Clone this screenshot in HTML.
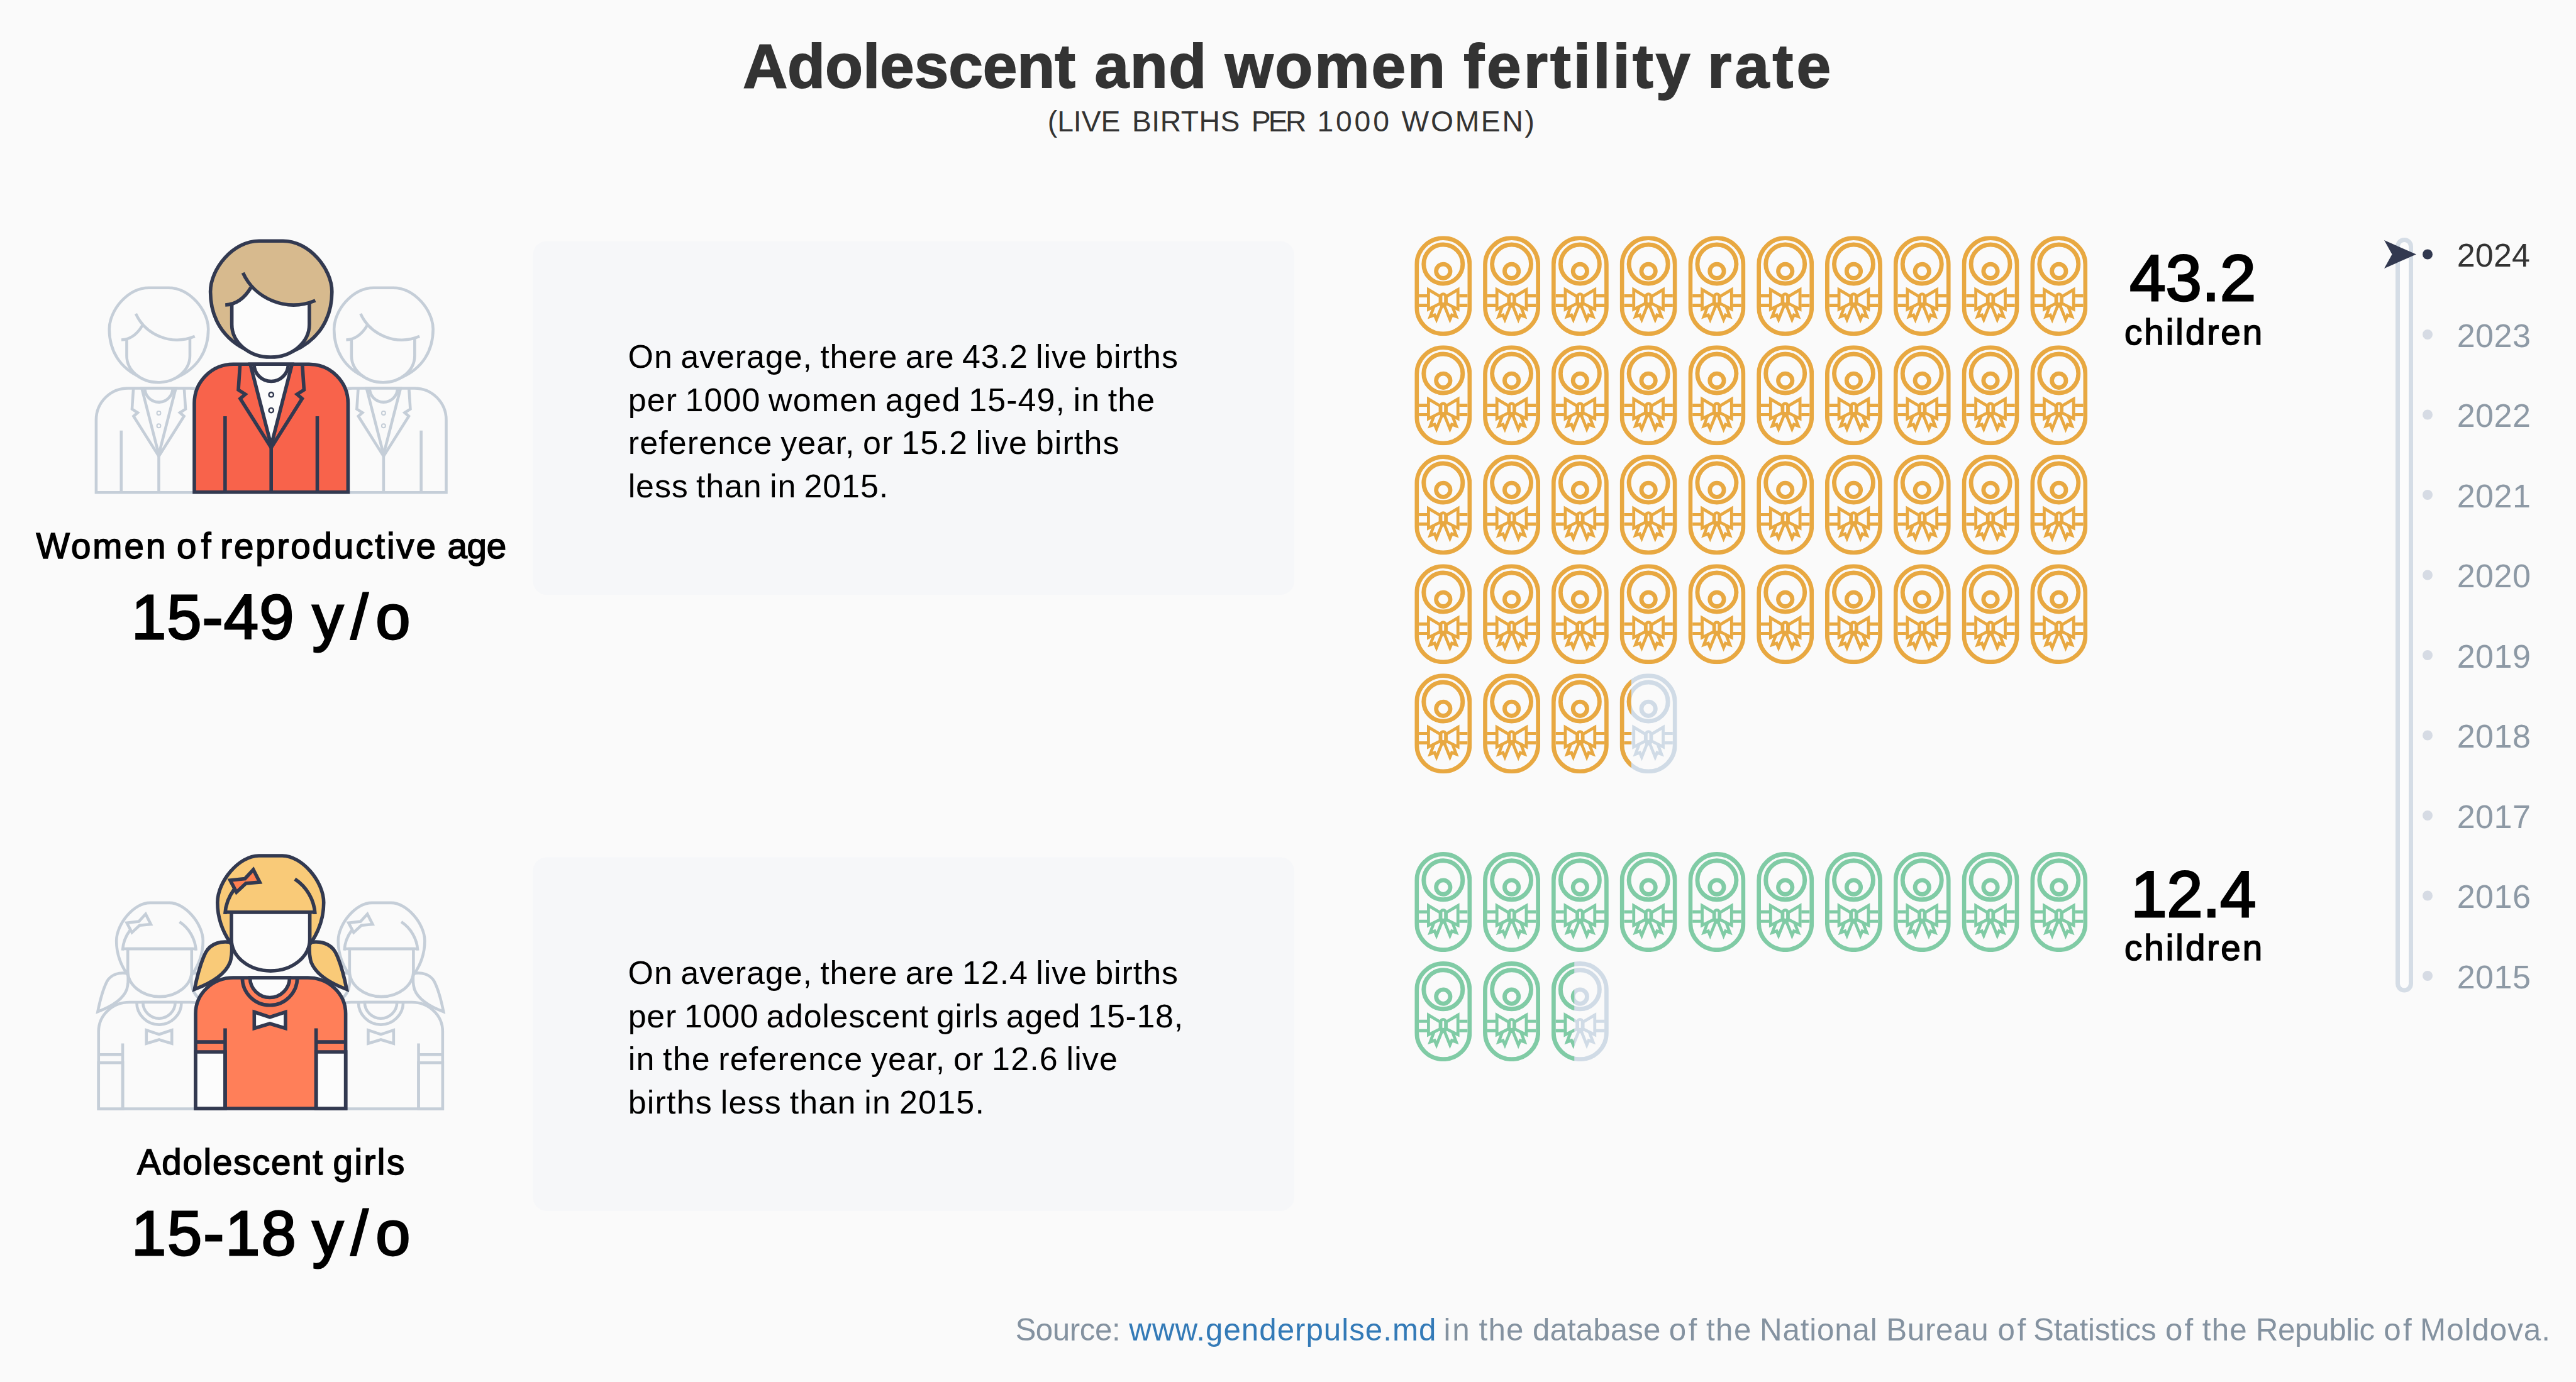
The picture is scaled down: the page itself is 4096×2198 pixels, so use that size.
<!DOCTYPE html>
<html lang="en"><head><meta charset="utf-8"><title>Adolescent and women fertility rate</title>
<style>
html,body{margin:0;padding:0}
body{width:4096px;height:2198px;background:#fafafa;position:relative;overflow:hidden;font-family:"Liberation Sans",sans-serif}
svg.g{position:absolute;left:0;top:0}
.t{position:absolute;white-space:nowrap;margin:0}
</style></head><body>
<svg class="g" width="4096" height="2198" viewBox="0 0 4096 2198">
<symbol id="baby" viewBox="0 0 91 159"><g fill="none" stroke="currentColor" stroke-miterlimit="10">
<rect x="3.4" y="3.4" width="84.2" height="152.2" rx="42.1" stroke-width="6.8"/>
<circle cx="45.5" cy="44.7" r="31" stroke-width="6.9"/>
<circle cx="45.5" cy="56" r="11.2" stroke-width="6.8"/>
<path d="M6.8 95.1H20M6.8 110.1H20M71 95.1H84.2M71 110.1H84.2" stroke-width="5"/>
<g stroke-width="4.8">
<path d="M22.1 85.3L40.7 96.3V107.3L22.1 116.6Z"/>
<path d="M68.9 85.3L50.3 96.3V107.3L68.9 116.6Z"/>
<rect x="41.7" y="92.3" width="7.6" height="19.5" rx="3.8"/>
<path d="M45.5 106L34.8 132.9L31.8 125.7L24.8 128.2L30.8 112.3"/>
<path d="M45.5 106L56.2 132.9L59.2 125.7L66.2 128.2L60.2 112.3"/>
</g></g></symbol>
<rect x="847.3" y="383.6" width="1210.7" height="562.6" rx="22" fill="#f6f7f9"/><rect x="847.3" y="1363.4" width="1210.7" height="562.6" rx="22" fill="#f6f7f9"/>
<g transform="translate(252.50 785.5) scale(0.815) translate(-431.2 -785.5)"><g stroke="#c5ced8" stroke-width="5.6" fill="none" stroke-miterlimit="10">
<path d="M412 383.3H450C492 383.3 527.8 428 527.8 464C527.8 505 508 540 466 558.4H396.4C354.4 540 334.6 505 334.6 464C334.6 428 370 383.3 412 383.3Z" fill="#fafafa"/>
<path d="M368.6 483Q383 484 399 457.2C410 470 440 492 491.9 482V516A61.65 52 0 0 1 368.6 516Z" fill="#fafafa" stroke="none"/>
<path d="M368.6 484V516A61.65 52 0 0 0 491.9 516V482"/>
<path d="M386.3 433.8C405 475 455 497 501.4 478"/>
<path d="M358.2 485Q383 484 399 457.2"/>
<path d="M309 782.7V641.3A62 62 0 0 1 371 579.3H491.4A62 62 0 0 1 553.4 641.3V782.7Z" fill="#fafafa"/>
<path d="M398 579.3L431.2 708.5L464.4 579.3Z" fill="#fafafa"/>
<path d="M404 579.3A27.2 27.2 0 0 0 458.4 579.3"/>
<path d="M381.7 579.3L379 620L390 627L382 634L431.2 712L480.4 634L472.4 627L483.4 620L480.7 579.3"/>
<path d="M431.2 711V782.7M357.9 662V782.7M504.5 662V782.7"/>
<circle cx="431.2" cy="627.7" r="3.7" stroke-width="2.4" fill="#fafafa"/>
<circle cx="431.2" cy="652.6" r="3.7" stroke-width="2.4" fill="#fafafa"/>
</g></g><g transform="translate(609.90 785.5) scale(0.815) translate(-431.2 -785.5)"><g stroke="#c5ced8" stroke-width="5.6" fill="none" stroke-miterlimit="10">
<path d="M412 383.3H450C492 383.3 527.8 428 527.8 464C527.8 505 508 540 466 558.4H396.4C354.4 540 334.6 505 334.6 464C334.6 428 370 383.3 412 383.3Z" fill="#fafafa"/>
<path d="M368.6 483Q383 484 399 457.2C410 470 440 492 491.9 482V516A61.65 52 0 0 1 368.6 516Z" fill="#fafafa" stroke="none"/>
<path d="M368.6 484V516A61.65 52 0 0 0 491.9 516V482"/>
<path d="M386.3 433.8C405 475 455 497 501.4 478"/>
<path d="M358.2 485Q383 484 399 457.2"/>
<path d="M309 782.7V641.3A62 62 0 0 1 371 579.3H491.4A62 62 0 0 1 553.4 641.3V782.7Z" fill="#fafafa"/>
<path d="M398 579.3L431.2 708.5L464.4 579.3Z" fill="#fafafa"/>
<path d="M404 579.3A27.2 27.2 0 0 0 458.4 579.3"/>
<path d="M381.7 579.3L379 620L390 627L382 634L431.2 712L480.4 634L472.4 627L483.4 620L480.7 579.3"/>
<path d="M431.2 711V782.7M357.9 662V782.7M504.5 662V782.7"/>
<circle cx="431.2" cy="627.7" r="3.7" stroke-width="2.4" fill="#fafafa"/>
<circle cx="431.2" cy="652.6" r="3.7" stroke-width="2.4" fill="#fafafa"/>
</g></g><g stroke="#323950" stroke-width="5.6" fill="none" stroke-miterlimit="10">
<path d="M412 383.3H450C492 383.3 527.8 428 527.8 464C527.8 505 508 540 466 558.4H396.4C354.4 540 334.6 505 334.6 464C334.6 428 370 383.3 412 383.3Z" fill="#d7ba8e"/>
<path d="M368.6 483Q383 484 399 457.2C410 470 440 492 491.9 482V516A61.65 52 0 0 1 368.6 516Z" fill="#fcfcfc" stroke="none"/>
<path d="M368.6 484V516A61.65 52 0 0 0 491.9 516V482"/>
<path d="M386.3 433.8C405 475 455 497 501.4 478"/>
<path d="M358.2 485Q383 484 399 457.2"/>
<path d="M309 782.7V641.3A62 62 0 0 1 371 579.3H491.4A62 62 0 0 1 553.4 641.3V782.7Z" fill="#f8634b"/>
<path d="M398 579.3L431.2 708.5L464.4 579.3Z" fill="#fcfcfc"/>
<path d="M404 579.3A27.2 27.2 0 0 0 458.4 579.3"/>
<path d="M381.7 579.3L379 620L390 627L382 634L431.2 712L480.4 634L472.4 627L483.4 620L480.7 579.3"/>
<path d="M431.2 711V782.7M357.9 662V782.7M504.5 662V782.7"/>
<circle cx="431.2" cy="627.7" r="3.7" stroke-width="2.4" fill="#fcfcfc"/>
<circle cx="431.2" cy="652.6" r="3.7" stroke-width="2.4" fill="#fcfcfc"/>
</g><g transform="translate(254.00 1765.8) scale(0.815) translate(-430.3 -1765.8)"><g stroke="#c5ced8" stroke-width="5.6" fill="none" stroke-miterlimit="10">
<path d="M368 1499C352 1496 335 1500 327 1515C319 1531 313 1555 309.3 1573.5C332 1565 358 1551 366 1530C369 1520 369 1508 368 1499Z" fill="#fafafa"/>
<path d="M368 1499C352 1496 335 1500 327 1515C319 1531 313 1555 309.3 1573.5C332 1565 358 1551 366 1530C369 1520 369 1508 368 1499Z" fill="#fafafa" transform="translate(860.6 0) scale(-1 1)"/>
<path d="M411.6 1361H449C480 1361 514.7 1402 514.7 1435.5C514.7 1462 505 1484 494 1500H366.6C355.6 1484 345.8 1462 345.8 1435.5C345.8 1402 380 1361 411.6 1361Z" fill="#fafafa"/>
<path d="M368 1450.8V1494A62.2 50 0 0 0 492.6 1494V1450.8Z" fill="#fafafa"/>
<path d="M357.6 1450.8H503"/>
<path d="M357.8 1453.8A71.7 71.7 0 0 1 372 1415"/>
<path d="M468.9 1398.2A71.7 71.7 0 0 1 501 1453.8"/>
<path d="M366 1400L389.5 1397.5L402.8 1383L413 1403L391 1405L376 1419Z" fill="#fafafa"/>
<path d="M311 1763V1612A60 57 0 0 1 371 1555H489.6A60 57 0 0 1 549.6 1612V1763Z" fill="#fafafa"/>
<path d="M311 1673H358V1763H311ZM502.6 1673H549.6V1763H502.6Z" fill="#fafafa"/>
<path d="M311 1657.1H358M502.6 1657.1H549.6M358 1635.5V1763M502.6 1635.5V1763"/>
<path d="M397.5 1555A31.5 31.5 0 0 0 460.5 1555Z" fill="#fafafa"/>
<path d="M385.3 1555A43.7 43.7 0 0 0 472.7 1555"/>
<path d="M404.3 1609.5L429.1 1617.7L453.9 1609.5V1635.5L429.1 1628L404.3 1635.5Z" fill="#fafafa"/>
</g></g><g transform="translate(606.60 1765.8) scale(0.815) translate(-430.3 -1765.8)"><g stroke="#c5ced8" stroke-width="5.6" fill="none" stroke-miterlimit="10">
<path d="M368 1499C352 1496 335 1500 327 1515C319 1531 313 1555 309.3 1573.5C332 1565 358 1551 366 1530C369 1520 369 1508 368 1499Z" fill="#fafafa"/>
<path d="M368 1499C352 1496 335 1500 327 1515C319 1531 313 1555 309.3 1573.5C332 1565 358 1551 366 1530C369 1520 369 1508 368 1499Z" fill="#fafafa" transform="translate(860.6 0) scale(-1 1)"/>
<path d="M411.6 1361H449C480 1361 514.7 1402 514.7 1435.5C514.7 1462 505 1484 494 1500H366.6C355.6 1484 345.8 1462 345.8 1435.5C345.8 1402 380 1361 411.6 1361Z" fill="#fafafa"/>
<path d="M368 1450.8V1494A62.2 50 0 0 0 492.6 1494V1450.8Z" fill="#fafafa"/>
<path d="M357.6 1450.8H503"/>
<path d="M357.8 1453.8A71.7 71.7 0 0 1 372 1415"/>
<path d="M468.9 1398.2A71.7 71.7 0 0 1 501 1453.8"/>
<path d="M366 1400L389.5 1397.5L402.8 1383L413 1403L391 1405L376 1419Z" fill="#fafafa"/>
<path d="M311 1763V1612A60 57 0 0 1 371 1555H489.6A60 57 0 0 1 549.6 1612V1763Z" fill="#fafafa"/>
<path d="M311 1673H358V1763H311ZM502.6 1673H549.6V1763H502.6Z" fill="#fafafa"/>
<path d="M311 1657.1H358M502.6 1657.1H549.6M358 1635.5V1763M502.6 1635.5V1763"/>
<path d="M397.5 1555A31.5 31.5 0 0 0 460.5 1555Z" fill="#fafafa"/>
<path d="M385.3 1555A43.7 43.7 0 0 0 472.7 1555"/>
<path d="M404.3 1609.5L429.1 1617.7L453.9 1609.5V1635.5L429.1 1628L404.3 1635.5Z" fill="#fafafa"/>
</g></g><g stroke="#323950" stroke-width="5.6" fill="none" stroke-miterlimit="10">
<path d="M368 1499C352 1496 335 1500 327 1515C319 1531 313 1555 309.3 1573.5C332 1565 358 1551 366 1530C369 1520 369 1508 368 1499Z" fill="#f9ca78"/>
<path d="M368 1499C352 1496 335 1500 327 1515C319 1531 313 1555 309.3 1573.5C332 1565 358 1551 366 1530C369 1520 369 1508 368 1499Z" fill="#f9ca78" transform="translate(860.6 0) scale(-1 1)"/>
<path d="M411.6 1361H449C480 1361 514.7 1402 514.7 1435.5C514.7 1462 505 1484 494 1500H366.6C355.6 1484 345.8 1462 345.8 1435.5C345.8 1402 380 1361 411.6 1361Z" fill="#f9ca78"/>
<path d="M368 1450.8V1494A62.2 50 0 0 0 492.6 1494V1450.8Z" fill="#fcfcfc"/>
<path d="M357.6 1450.8H503"/>
<path d="M357.8 1453.8A71.7 71.7 0 0 1 372 1415"/>
<path d="M468.9 1398.2A71.7 71.7 0 0 1 501 1453.8"/>
<path d="M366 1400L389.5 1397.5L402.8 1383L413 1403L391 1405L376 1419Z" fill="#ff7f50"/>
<path d="M311 1763V1612A60 57 0 0 1 371 1555H489.6A60 57 0 0 1 549.6 1612V1763Z" fill="#ff7f59"/>
<path d="M311 1673H358V1763H311ZM502.6 1673H549.6V1763H502.6Z" fill="#fcfcfc"/>
<path d="M311 1657.1H358M502.6 1657.1H549.6M358 1635.5V1763M502.6 1635.5V1763"/>
<path d="M397.5 1555A31.5 31.5 0 0 0 460.5 1555Z" fill="#fcfcfc"/>
<path d="M385.3 1555A43.7 43.7 0 0 0 472.7 1555"/>
<path d="M404.3 1609.5L429.1 1617.7L453.9 1609.5V1635.5L429.1 1628L404.3 1635.5Z" fill="#fcfcfc"/>
</g>
<use href="#baby" x="2249.30" y="375.30" width="91" height="159" color="#e8a841"/><use href="#baby" x="2358.08" y="375.30" width="91" height="159" color="#e8a841"/><use href="#baby" x="2466.86" y="375.30" width="91" height="159" color="#e8a841"/><use href="#baby" x="2575.64" y="375.30" width="91" height="159" color="#e8a841"/><use href="#baby" x="2684.42" y="375.30" width="91" height="159" color="#e8a841"/><use href="#baby" x="2793.20" y="375.30" width="91" height="159" color="#e8a841"/><use href="#baby" x="2901.98" y="375.30" width="91" height="159" color="#e8a841"/><use href="#baby" x="3010.76" y="375.30" width="91" height="159" color="#e8a841"/><use href="#baby" x="3119.54" y="375.30" width="91" height="159" color="#e8a841"/><use href="#baby" x="3228.32" y="375.30" width="91" height="159" color="#e8a841"/><use href="#baby" x="2249.30" y="549.30" width="91" height="159" color="#e8a841"/><use href="#baby" x="2358.08" y="549.30" width="91" height="159" color="#e8a841"/><use href="#baby" x="2466.86" y="549.30" width="91" height="159" color="#e8a841"/><use href="#baby" x="2575.64" y="549.30" width="91" height="159" color="#e8a841"/><use href="#baby" x="2684.42" y="549.30" width="91" height="159" color="#e8a841"/><use href="#baby" x="2793.20" y="549.30" width="91" height="159" color="#e8a841"/><use href="#baby" x="2901.98" y="549.30" width="91" height="159" color="#e8a841"/><use href="#baby" x="3010.76" y="549.30" width="91" height="159" color="#e8a841"/><use href="#baby" x="3119.54" y="549.30" width="91" height="159" color="#e8a841"/><use href="#baby" x="3228.32" y="549.30" width="91" height="159" color="#e8a841"/><use href="#baby" x="2249.30" y="723.30" width="91" height="159" color="#e8a841"/><use href="#baby" x="2358.08" y="723.30" width="91" height="159" color="#e8a841"/><use href="#baby" x="2466.86" y="723.30" width="91" height="159" color="#e8a841"/><use href="#baby" x="2575.64" y="723.30" width="91" height="159" color="#e8a841"/><use href="#baby" x="2684.42" y="723.30" width="91" height="159" color="#e8a841"/><use href="#baby" x="2793.20" y="723.30" width="91" height="159" color="#e8a841"/><use href="#baby" x="2901.98" y="723.30" width="91" height="159" color="#e8a841"/><use href="#baby" x="3010.76" y="723.30" width="91" height="159" color="#e8a841"/><use href="#baby" x="3119.54" y="723.30" width="91" height="159" color="#e8a841"/><use href="#baby" x="3228.32" y="723.30" width="91" height="159" color="#e8a841"/><use href="#baby" x="2249.30" y="897.30" width="91" height="159" color="#e8a841"/><use href="#baby" x="2358.08" y="897.30" width="91" height="159" color="#e8a841"/><use href="#baby" x="2466.86" y="897.30" width="91" height="159" color="#e8a841"/><use href="#baby" x="2575.64" y="897.30" width="91" height="159" color="#e8a841"/><use href="#baby" x="2684.42" y="897.30" width="91" height="159" color="#e8a841"/><use href="#baby" x="2793.20" y="897.30" width="91" height="159" color="#e8a841"/><use href="#baby" x="2901.98" y="897.30" width="91" height="159" color="#e8a841"/><use href="#baby" x="3010.76" y="897.30" width="91" height="159" color="#e8a841"/><use href="#baby" x="3119.54" y="897.30" width="91" height="159" color="#e8a841"/><use href="#baby" x="3228.32" y="897.30" width="91" height="159" color="#e8a841"/><use href="#baby" x="2249.30" y="1071.30" width="91" height="159" color="#e8a841"/><use href="#baby" x="2358.08" y="1071.30" width="91" height="159" color="#e8a841"/><use href="#baby" x="2466.86" y="1071.30" width="91" height="159" color="#e8a841"/><use href="#baby" x="2575.64" y="1071.30" width="91" height="159" color="#d0dbe6"/><svg x="2575.64" y="1071.30" width="18.20" height="159" viewBox="0 0 18.20 159"><use href="#baby" x="0" y="0" width="91" height="159" color="#e8a841"/></svg><use href="#baby" x="2249.30" y="1355.10" width="91" height="159" color="#80cba5"/><use href="#baby" x="2358.08" y="1355.10" width="91" height="159" color="#80cba5"/><use href="#baby" x="2466.86" y="1355.10" width="91" height="159" color="#80cba5"/><use href="#baby" x="2575.64" y="1355.10" width="91" height="159" color="#80cba5"/><use href="#baby" x="2684.42" y="1355.10" width="91" height="159" color="#80cba5"/><use href="#baby" x="2793.20" y="1355.10" width="91" height="159" color="#80cba5"/><use href="#baby" x="2901.98" y="1355.10" width="91" height="159" color="#80cba5"/><use href="#baby" x="3010.76" y="1355.10" width="91" height="159" color="#80cba5"/><use href="#baby" x="3119.54" y="1355.10" width="91" height="159" color="#80cba5"/><use href="#baby" x="3228.32" y="1355.10" width="91" height="159" color="#80cba5"/><use href="#baby" x="2249.30" y="1529.10" width="91" height="159" color="#80cba5"/><use href="#baby" x="2358.08" y="1529.10" width="91" height="159" color="#80cba5"/><use href="#baby" x="2466.86" y="1529.10" width="91" height="159" color="#d0dbe6"/><svg x="2466.86" y="1529.10" width="36.40" height="159" viewBox="0 0 36.40 159"><use href="#baby" x="0" y="0" width="91" height="159" color="#80cba5"/></svg>
<rect x="3812.5" y="381.5" width="21" height="1193.5" rx="10.5" fill="#fcfcfc" stroke="#d5dde6" stroke-width="7"/><circle cx="3860" cy="404.5" r="8" fill="#323950"/><circle cx="3860" cy="532.0" r="8" fill="#d6dbe4"/><circle cx="3860" cy="659.5" r="8" fill="#d6dbe4"/><circle cx="3860" cy="787.0" r="8" fill="#d6dbe4"/><circle cx="3860" cy="914.5" r="8" fill="#d6dbe4"/><circle cx="3860" cy="1042.0" r="8" fill="#d6dbe4"/><circle cx="3860" cy="1169.5" r="8" fill="#d6dbe4"/><circle cx="3860" cy="1297.0" r="8" fill="#d6dbe4"/><circle cx="3860" cy="1424.5" r="8" fill="#d6dbe4"/><circle cx="3860" cy="1552.0" r="8" fill="#d6dbe4"/><path d="M3791 382L3842 404.5L3791 427L3803.5 404.5Z" fill="#323950"/>
</svg>
<div class="t" style="left:1181.20px;top:42.24px;font-size:98.3px;line-height:127.79px;letter-spacing:-0.122px;color:#333;font-weight:700;-webkit-text-stroke:1.8px #333;">Adolescent</div>
<div class="t" style="left:1740.50px;top:42.24px;font-size:98.3px;line-height:127.79px;letter-spacing:1.544px;color:#333;font-weight:700;-webkit-text-stroke:1.8px #333;">and</div>
<div class="t" style="left:1947.90px;top:42.24px;font-size:98.3px;line-height:127.79px;letter-spacing:2.907px;color:#333;font-weight:700;-webkit-text-stroke:1.8px #333;">women</div>
<div class="t" style="left:2327.20px;top:42.24px;font-size:98.3px;line-height:127.79px;letter-spacing:4.056px;color:#333;font-weight:700;-webkit-text-stroke:1.8px #333;">fertility</div>
<div class="t" style="left:2715.00px;top:42.24px;font-size:98.3px;line-height:127.79px;letter-spacing:5.282px;color:#333;font-weight:700;-webkit-text-stroke:1.8px #333;">rate</div>
<div class="t" style="left:1665.80px;top:162.86px;font-size:46.3px;line-height:60.19px;letter-spacing:-0.052px;color:#333;">(LIVE</div>
<div class="t" style="left:1800.00px;top:162.86px;font-size:46.3px;line-height:60.19px;letter-spacing:0.489px;color:#333;">BIRTHS</div>
<div class="t" style="left:1989.70px;top:162.86px;font-size:46.3px;line-height:60.19px;letter-spacing:-3.730px;color:#333;">PER</div>
<div class="t" style="left:2094.40px;top:162.86px;font-size:46.3px;line-height:60.19px;letter-spacing:3.852px;color:#333;">1000</div>
<div class="t" style="left:2228.60px;top:162.86px;font-size:46.3px;line-height:60.19px;letter-spacing:2.662px;color:#333;">WOMEN)</div>
<div class="t" style="left:57.60px;top:832.10px;font-size:56.5px;line-height:73.45px;letter-spacing:3.021px;color:#000;-webkit-text-stroke:1.6px #000;">Women</div>
<div class="t" style="left:280.90px;top:832.10px;font-size:56.5px;line-height:73.45px;letter-spacing:7.477px;color:#000;-webkit-text-stroke:1.6px #000;">of</div>
<div class="t" style="left:350.20px;top:832.10px;font-size:56.5px;line-height:73.45px;letter-spacing:2.892px;color:#000;-webkit-text-stroke:1.6px #000;">reproductive</div>
<div class="t" style="left:711.50px;top:832.10px;font-size:56.5px;line-height:73.45px;letter-spacing:-0.323px;color:#000;-webkit-text-stroke:1.6px #000;">age</div>
<div class="t" style="left:208.90px;top:917.25px;font-size:99.3px;line-height:129.09px;letter-spacing:1.140px;color:#000;-webkit-text-stroke:2.8px #000;">15-49</div>
<div class="t" style="left:496.40px;top:917.25px;font-size:99.3px;line-height:129.09px;letter-spacing:11.832px;color:#000;-webkit-text-stroke:2.8px #000;">y/o</div>
<div class="t" style="left:217.90px;top:1812.10px;font-size:56.5px;line-height:73.45px;letter-spacing:1.728px;color:#000;-webkit-text-stroke:1.6px #000;">Adolescent</div>
<div class="t" style="left:529.40px;top:1812.10px;font-size:56.5px;line-height:73.45px;letter-spacing:2.564px;color:#000;-webkit-text-stroke:1.6px #000;">girls</div>
<div class="t" style="left:208.90px;top:1897.25px;font-size:99.3px;line-height:129.09px;letter-spacing:1.965px;color:#000;-webkit-text-stroke:2.8px #000;">15-18</div>
<div class="t" style="left:496.40px;top:1897.25px;font-size:99.3px;line-height:129.09px;letter-spacing:11.832px;color:#000;-webkit-text-stroke:2.8px #000;">y/o</div>
<div class="t" style="left:998.60px;top:534.38px;font-size:52.0px;line-height:67.6px;letter-spacing:0.914px;color:#000;word-spacing:-3px;">On average, there are 43.2 live births</div>
<div class="t" style="left:998.70px;top:602.78px;font-size:52.0px;line-height:67.6px;letter-spacing:1.078px;color:#000;word-spacing:-3px;">per 1000 women aged 15-49, in the</div>
<div class="t" style="left:998.70px;top:671.18px;font-size:52.0px;line-height:67.6px;letter-spacing:1.133px;color:#000;word-spacing:-3px;">reference year, or 15.2 live births</div>
<div class="t" style="left:998.70px;top:739.58px;font-size:52.0px;line-height:67.6px;letter-spacing:0.872px;color:#000;word-spacing:-3px;">less than in 2015.</div>
<div class="t" style="left:998.60px;top:1514.38px;font-size:52.0px;line-height:67.6px;letter-spacing:0.917px;color:#000;word-spacing:-3px;">On average, there are 12.4 live births</div>
<div class="t" style="left:998.70px;top:1582.78px;font-size:52.0px;line-height:67.6px;letter-spacing:0.678px;color:#000;word-spacing:-3px;">per 1000 adolescent girls aged 15-18,</div>
<div class="t" style="left:998.70px;top:1651.18px;font-size:52.0px;line-height:67.6px;letter-spacing:1.144px;color:#000;word-spacing:-3px;">in the reference year, or 12.6 live</div>
<div class="t" style="left:998.70px;top:1719.58px;font-size:52.0px;line-height:67.6px;letter-spacing:1.205px;color:#000;word-spacing:-3px;">births less than in 2015.</div>
<div class="t" style="left:3386.15px;top:375.16px;font-size:103.3px;line-height:134.29px;letter-spacing:-0.032px;color:#000;-webkit-text-stroke:2.9px #000;">43.2</div>
<div class="t" style="left:3377.90px;top:491.80px;font-size:56.5px;line-height:73.45px;letter-spacing:3.052px;color:#000;-webkit-text-stroke:1.6px #000;">children</div>
<div class="t" style="left:3388.35px;top:1354.86px;font-size:103.3px;line-height:134.29px;letter-spacing:-0.632px;color:#000;-webkit-text-stroke:2.9px #000;">12.4</div>
<div class="t" style="left:3377.90px;top:1471.30px;font-size:56.5px;line-height:73.45px;letter-spacing:3.052px;color:#000;-webkit-text-stroke:1.6px #000;">children</div>
<div class="t" style="left:3906.70px;top:373.18px;font-size:52.0px;line-height:67.6px;letter-spacing:0.180px;color:#333;">2024</div>
<div class="t" style="left:3906.70px;top:500.68px;font-size:52.0px;line-height:67.6px;letter-spacing:0.513px;color:#8d99a5;">2023</div>
<div class="t" style="left:3906.70px;top:628.18px;font-size:52.0px;line-height:67.6px;letter-spacing:0.513px;color:#8d99a5;">2022</div>
<div class="t" style="left:3906.70px;top:755.68px;font-size:52.0px;line-height:67.6px;letter-spacing:0.513px;color:#8d99a5;">2021</div>
<div class="t" style="left:3906.70px;top:883.18px;font-size:52.0px;line-height:67.6px;letter-spacing:0.513px;color:#8d99a5;">2020</div>
<div class="t" style="left:3906.70px;top:1010.68px;font-size:52.0px;line-height:67.6px;letter-spacing:0.513px;color:#8d99a5;">2019</div>
<div class="t" style="left:3906.70px;top:1138.18px;font-size:52.0px;line-height:67.6px;letter-spacing:0.513px;color:#8d99a5;">2018</div>
<div class="t" style="left:3906.70px;top:1265.68px;font-size:52.0px;line-height:67.6px;letter-spacing:0.513px;color:#8d99a5;">2017</div>
<div class="t" style="left:3906.70px;top:1393.18px;font-size:52.0px;line-height:67.6px;letter-spacing:0.513px;color:#8d99a5;">2016</div>
<div class="t" style="left:3906.70px;top:1520.68px;font-size:52.0px;line-height:67.6px;letter-spacing:0.513px;color:#8d99a5;">2015</div>
<div class="t" style="left:1614.40px;top:2082.87px;font-size:49.3px;line-height:64.09px;letter-spacing:-0.449px;color:#8492a0;">Source:</div>
<div class="t" style="left:1795.30px;top:2082.87px;font-size:49.3px;line-height:64.09px;letter-spacing:0.989px;color:#337ab7;">www.genderpulse.md</div>
<div class="t" style="left:2295.60px;top:2082.87px;font-size:49.3px;line-height:64.09px;letter-spacing:2.748px;color:#8492a0;">in</div>
<div class="t" style="left:2351.40px;top:2082.87px;font-size:49.3px;line-height:64.09px;letter-spacing:1.294px;color:#8492a0;">the</div>
<div class="t" style="left:2436.90px;top:2082.87px;font-size:49.3px;line-height:64.09px;letter-spacing:0.082px;color:#8492a0;">database</div>
<div class="t" style="left:2653.70px;top:2082.87px;font-size:49.3px;line-height:64.09px;letter-spacing:3.483px;color:#8492a0;">of</div>
<div class="t" style="left:2712.90px;top:2082.87px;font-size:49.3px;line-height:64.09px;letter-spacing:1.444px;color:#8492a0;">the</div>
<div class="t" style="left:2798.10px;top:2082.87px;font-size:49.3px;line-height:64.09px;letter-spacing:0.826px;color:#8492a0;">National</div>
<div class="t" style="left:2999.20px;top:2082.87px;font-size:49.3px;line-height:64.09px;letter-spacing:0.711px;color:#8492a0;">Bureau</div>
<div class="t" style="left:3176.60px;top:2082.87px;font-size:49.3px;line-height:64.09px;letter-spacing:3.383px;color:#8492a0;">of</div>
<div class="t" style="left:3233.10px;top:2082.87px;font-size:49.3px;line-height:64.09px;letter-spacing:-0.176px;color:#8492a0;">Statistics</div>
<div class="t" style="left:3442.90px;top:2082.87px;font-size:49.3px;line-height:64.09px;letter-spacing:3.283px;color:#8492a0;">of</div>
<div class="t" style="left:3501.80px;top:2082.87px;font-size:49.3px;line-height:64.09px;letter-spacing:1.144px;color:#8492a0;">the</div>
<div class="t" style="left:3586.70px;top:2082.87px;font-size:49.3px;line-height:64.09px;letter-spacing:-0.324px;color:#8492a0;">Republic</div>
<div class="t" style="left:3790.30px;top:2082.87px;font-size:49.3px;line-height:64.09px;letter-spacing:3.283px;color:#8492a0;">of</div>
<div class="t" style="left:3848.10px;top:2082.87px;font-size:49.3px;line-height:64.09px;letter-spacing:0.967px;color:#8492a0;">Moldova.</div>
</body></html>
